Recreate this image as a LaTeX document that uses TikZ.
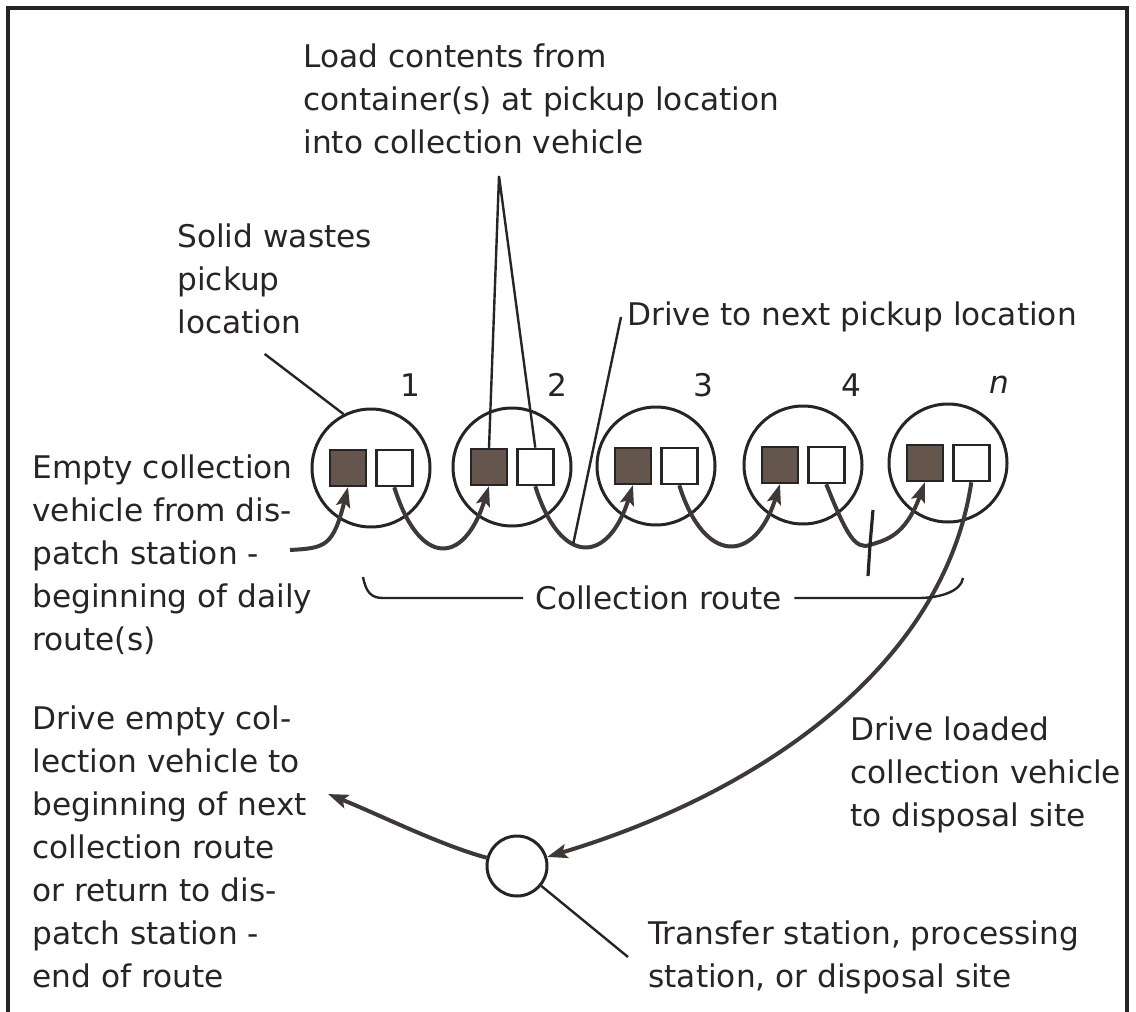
\documentclass[tikz,border=0pt]{standalone}
\usepackage{fontspec}
\setmainfont{DejaVu Sans}
\usetikzlibrary{positioning,arrows.meta}
\definecolor{ink}{RGB}{38,36,36}
\definecolor{waste}{RGB}{100,86,76}
\definecolor{trail}{RGB}{62,56,54}

\begin{document}
\begin{tikzpicture}[x=0.5pt,y=-0.5pt,
  site/.style={circle,draw=ink,line width=1.5pt,minimum size=59pt,inner sep=0pt},
  full/.style={rectangle,draw=ink,fill=waste,line width=1pt,minimum size=18pt,inner sep=0pt},
  bin/.style={rectangle,draw=ink,fill=white,line width=1.3pt,minimum size=18pt,inner sep=0pt},
  txt/.style={align=left,inner sep=0pt,anchor=north west,text=ink,font=\fontsize{15.6}{21.5}\selectfont},
  num/.style={text=ink,font=\fontsize{15.6}{19}\selectfont},
  pointer/.style={draw=ink,line width=1.2pt},
  route/.style={draw=trail,line width=2pt,-{Stealth[length=10pt,width=7pt,inset=2pt]}}]
  \useasboundingbox (0,0) rectangle (1136,1012);
  \draw[ink,line width=2pt] (8,1012) -- (8,8) -- (1127,8) -- (1127,1012);

  \foreach \i/\x/\y/\lx/\lab in {1/371/468/410/1, 2/512/467/557/2, 3/656/466/703/3,
      4/803/465/851/4, 5/948/463/999/\textit{n}} {
    \node[site] (c\i) at (\x,\y) {};
    \node[full,left=2pt of c\i.center] (f\i) {};
    \node[bin,right=2pt of c\i.center] (e\i) {};
    \node[num] (l\i) at (\lx,385) {\lab};
  }

  \coordinate (start) at (290,550);
  \draw[route] (start) .. controls +(35,-2) and +(-15,60) .. (f1.south);
  \foreach \i/\j in {1/2,2/3,3/4}
    \draw[route] (e\i.south) .. controls +(25,80) and +(-25,80) .. (f\j.south)
      coordinate[pos=0.4] (m\i);

  \coordinate (cut) at (870,545);
  \coordinate (cut top) at (873,510);
  \coordinate (cut bot) at (868,576);
  \draw[route,-] (e4.south) .. controls +(20,50) and +(-15,5) .. (cut);
  \draw[route] (cut) .. controls +(15,-5) and +(-20,55) .. (f5.south);
  \draw[pointer,line width=1.6pt] (cut top) -- (cut) -- (cut bot);

  \node[site,minimum size=30pt] (stn) at (517,866) {};
  \coordinate (back) at (328,794);
  \draw[route] (e5.south) .. controls (945,660) and (770,790) .. (stn);
  \draw[route] (stn) .. controls (440,845) and (380,815) .. (back);

  \node[txt] (ld) at (303,43) {Load contents from\\container(s) at pickup location\\into collection vehicle};
  \coordinate (apex) at (499,176);
  \draw[pointer] (f2.north) -- (apex) -- (e2.north);

  \node[txt] (sw) at (177,223) {Solid wastes\\pickup\\location};
  \draw[pointer] ([xshift=-5pt,yshift=-10pt]sw.south) -- (c1.117);

  \node[txt,anchor=west] (dn) at (627,317) {Drive to next pickup location};
  \draw[pointer] ([xshift=-3pt]dn.west) -- (m2);

  \node[txt] (ev) at (32,454) {Empty collection\\vehicle from dis-\\patch station -\\beginning of daily\\route(s)};
  \node[txt] (de) at (32,705) {Drive empty col-\\lection vehicle to\\beginning of next\\collection route\\or return to dis-\\patch station -\\end of route};

  \node[txt,anchor=west] (cr) at (535,598) {Collection route};
  \coordinate (cr left) at (363,577);
  \coordinate (cr right) at (963,578);
  \draw[pointer] ([xshift=-6pt]cr.west) -- ++(-140,0) .. controls +(-12,0) and +(3,15) .. (cr left);
  \draw[pointer] ([xshift=6pt]cr.east) -- ++(124,0) .. controls +(20,0) and +(-2,14) .. (cr right);

  \node[txt] (dl) at (850,716) {Drive loaded\\collection vehicle\\to disposal site};
  \node[txt] (tr) at (648,920) {Transfer station, processing\\station, or disposal site};
  \draw[pointer] (stn) -- ([xshift=-10pt]tr.west);
\end{tikzpicture}
\end{document}
